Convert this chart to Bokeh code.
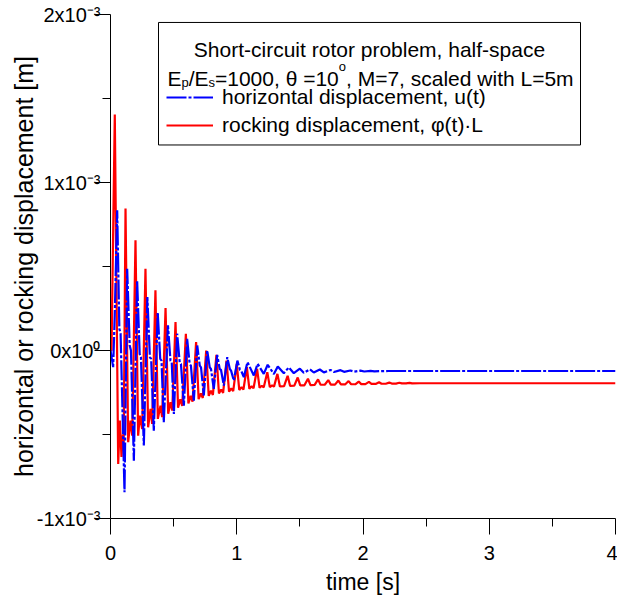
import numpy as np
from bokeh.plotting import figure
from bokeh.models import (Range1d, FixedTicker, CustomJSTickFormatter, Label,
                          BoxAnnotation, Legend, LegendItem)
from bokeh.embed import file_html
from bokeh.resources import INLINE

# ---------------- data (displacements in 1e-3 m) ----------------
t_red = [0.000, 0.008, 0.034, 0.061, 0.074,
         0.087, 0.098, 0.104, 0.119,
         0.140, 0.158, 0.172, 0.198,
         0.219, 0.232, 0.251, 0.277,
         0.298, 0.317, 0.330, 0.356,
         0.375, 0.396, 0.409, 0.436,
         0.457, 0.475, 0.489, 0.515,
         0.535, 0.553, 0.568, 0.597,
         0.617, 0.635, 0.650, 0.678,
         0.698, 0.716, 0.731, 0.758,
         0.778, 0.796, 0.811, 0.839,
         0.859, 0.877, 0.892, 0.919,
         0.939, 0.957, 0.972, 1.000,
         1.020, 1.038, 1.053, 1.080,
         1.100, 1.118, 1.133, 1.161,
         1.181, 1.199, 1.214, 1.242,
         1.262, 1.280, 1.295, 1.322,
         1.342, 1.375, 1.403,
         1.423, 1.456, 1.483,
         1.503, 1.536, 1.564,
         1.584, 1.617, 1.644,
         1.664, 1.697, 1.725,
         1.745, 1.778, 1.805,
         1.825, 1.858, 1.886,
         1.906, 1.939, 1.966,
         1.986, 2.019, 2.047,
         2.067, 2.100, 2.127,
         2.147, 2.180, 2.208,
         2.228, 2.261, 2.288,
         2.308, 2.341, 2.369,
         2.389, 2.450, 4.000]
rocking_mm = [0.000, 0.000, 1.405, -0.676, -0.417,
              -0.634, -0.500, -0.580, 0.845,
              -0.546, -0.417, -0.507, 0.656,
              -0.507, -0.388, -0.467, 0.487,
              -0.457, -0.348, -0.437, 0.358,
              -0.407, -0.328, -0.397, 0.253,
              -0.377, -0.308, -0.358, 0.169,
              -0.340, -0.290, -0.330, 0.100,
              -0.315, -0.270, -0.305, 0.050,
              -0.290, -0.255, -0.283, 0.000,
              -0.270, -0.240, -0.265, -0.026,
              -0.256, -0.232, -0.252, -0.060,
              -0.245, -0.225, -0.242, -0.079,
              -0.235, -0.218, -0.232, -0.099,
              -0.228, -0.213, -0.225, -0.109,
              -0.222, -0.210, -0.219, -0.129,
              -0.218, -0.207, -0.215, -0.139,
              -0.214, -0.212, -0.151,
              -0.211, -0.209, -0.161,
              -0.208, -0.207, -0.168,
              -0.206, -0.205, -0.172,
              -0.204, -0.204, -0.176,
              -0.203, -0.203, -0.179,
              -0.202, -0.202, -0.182,
              -0.201, -0.201, -0.185,
              -0.200, -0.200, -0.187,
              -0.199, -0.199, -0.189,
              -0.198, -0.198, -0.191,
              -0.197, -0.197, -0.192,
              -0.196, -0.196, -0.193,
              -0.196, -0.195, -0.195]

t_blue = [0.000, 0.021, 0.035, 0.053, 0.070, 0.080,
          0.111, 0.132, 0.152, 0.162,
          0.185, 0.211, 0.231, 0.241,
          0.264, 0.292, 0.312, 0.322,
          0.343, 0.374, 0.394, 0.404,
          0.422, 0.455, 0.475, 0.485,
          0.502, 0.528, 0.548, 0.558,
          0.581, 0.607, 0.627, 0.637,
          0.660, 0.687, 0.707, 0.717,
          0.739, 0.766, 0.786, 0.796,
          0.818, 0.845, 0.865, 0.875,
          0.898, 0.925, 0.945, 0.955,
          0.977, 1.005, 1.025, 1.035,
          1.056, 1.085, 1.135, 1.165,
          1.214, 1.245, 1.294, 1.325,
          1.373, 1.412, 1.452, 1.500,
          1.531, 1.579, 1.610, 1.658,
          1.690, 1.743, 1.770, 1.822,
          1.850, 1.900, 1.930, 1.980,
          2.010, 2.060, 2.090, 2.200,
          4.000]
horizontal_mm = [0.000, -0.099, 0.250, 0.835, 0.130, 0.100,
                 -0.844, 0.487, 0.030, 0.000,
                 -0.656, 0.417, -0.020, -0.040,
                 -0.566, 0.318, -0.040, -0.050,
                 -0.477, 0.224, -0.050, -0.060,
                 -0.427, 0.150, -0.060, -0.070,
                 -0.377, 0.100, -0.070, -0.080,
                 -0.328, 0.070, -0.080, -0.090,
                 -0.298, 0.030, -0.090, -0.100,
                 -0.268, 0.000, -0.100, -0.110,
                 -0.228, -0.026, -0.110, -0.115,
                 -0.209, -0.040, -0.110, -0.120,
                 -0.179, -0.060, -0.115, -0.120,
                 -0.159, -0.069, -0.149, -0.079,
                 -0.139, -0.085, -0.140, -0.095,
                 -0.135, -0.101, -0.135, -0.108,
                 -0.133, -0.112, -0.131, -0.113,
                 -0.130, -0.116, -0.128, -0.117,
                 -0.127, -0.119, -0.126, -0.120,
                 -0.125, -0.121, -0.124, -0.122,
                 -0.122]

x_ticks = [0, 1, 2, 3, 4]
x_minor = [0.5, 1.5, 2.5, 3.5]
y_ticks = [-1e-3, 0.0, 1e-3, 2e-3]
y_minor = [-0.5e-3, 0.5e-3, 1.5e-3]
y_tick_labels = ["-1x10\u207b\u00b3", "0x10\u2070", "1x10\u207b\u00b3", "2x10\u207b\u00b3"]

header1 = "Short-circuit rotor problem, half-space"
label_u = "horizontal displacement, u(t)"
label_phi = "rocking displacement, \u03c6(t)\u00b7L"
x_title = "time [s]"
y_title = "horizontal or rocking displacement [m]"

# ---------------- layout ----------------
FONT = "Liberation Sans"
W, H = 617, 597
FL, FR, FT, FB = 110, 2, 14, 77
FW = W - FL - FR
FH = H - FT - FB
X0, X1 = 0.0, 4.0
Y0, Y1 = -1e-3, 2e-3
XPP = (X1 - X0) / FW
YPP = (Y1 - Y0) / FH


def X(px):
    return X0 + (px - FL) * XPP


def Y(py):
    return Y1 - (py - FT) * YPP


p = figure(width=W, height=H, x_range=Range1d(X0, X1), y_range=Range1d(Y0, Y1),
           output_backend="svg", toolbar_location=None,
           min_border_left=FL, min_border_right=FR,
           min_border_top=FT, min_border_bottom=FB)
p.grid.visible = False
p.outline_line_color = None
p.background_fill_color = "white"
p.border_fill_color = "white"

red = p.line(np.array(t_red), np.array(rocking_mm) * 1e-3,
             line_color="#ff0000", line_width=2.2)
blue = p.line(np.array(t_blue), np.array(horizontal_mm) * 1e-3,
              line_color="#0000ff", line_width=2.2, line_dash="20 2 3 2")

for ax in (p.xaxis[0], p.yaxis[0]):
    ax.axis_line_color = "black"
    ax.axis_line_width = 1
    ax.major_tick_line_color = "black"
    ax.minor_tick_line_color = "black"
    ax.major_tick_in = 0
    ax.minor_tick_in = 0
    ax.major_tick_out = 16
    ax.minor_tick_out = 8
    ax.major_label_text_font = FONT
    ax.major_label_text_font_size = "20px"
    ax.major_label_text_color = "black"
    ax.axis_label_text_font = FONT
    ax.axis_label_text_font_style = "normal"
    ax.axis_label_text_color = "black"

p.xaxis.ticker = FixedTicker(ticks=x_ticks, minor_ticks=x_minor)
p.xaxis.major_label_standoff = 11
p.xaxis.axis_label = x_title
p.xaxis.axis_label_text_font_size = "23px"
p.xaxis.axis_label_standoff = 6

p.yaxis.ticker = FixedTicker(ticks=y_ticks, minor_ticks=y_minor)
p.yaxis.formatter = CustomJSTickFormatter(args=dict(labels=y_tick_labels),
                                          code="return labels[index]")
p.yaxis.major_label_standoff = -6
p.yaxis.axis_label = y_title
p.yaxis.axis_label_text_font_size = "25px"
p.yaxis.axis_label_standoff = -4

# legend frame and header
p.add_layout(BoxAnnotation(left=X(158), right=X(580), top=Y(22), bottom=Y(145),
                           fill_color="white", fill_alpha=1.0,
                           line_color="black", line_width=1, line_alpha=1.0))
p.add_layout(Label(x=X(369), y=Y(49.5), text=header1, text_font=FONT,
                   text_font_size="21px", text_color="black",
                   text_align="center", text_baseline="alphabetic"))

pieces = [("E", 167.0, 78.3, "21px"), ("p", 181.0, 82.7, "13px"),
          ("/E", 188.2, 78.3, "21px"), ("s", 208.0, 82.7, "13px"),
          ("=1000, \u03b8 =10", 214.5, 78.3, "21px"), ("o", 338.3, 66.7, "13px"),
          (", M=7, scaled with L=5m", 345.5, 78.3, "21px")]
for txt, px, py, fs in pieces:
    p.add_layout(Label(x=X(px), y=Y(py), text=txt, text_font=FONT,
                       text_font_size=fs, text_color="black",
                       text_align="left", text_baseline="alphabetic"))

legend = Legend(items=[LegendItem(label=label_u, renderers=[blue]),
                       LegendItem(label=label_phi, renderers=[red])],
                location=(166 - FL, (FT + FH) - 141),
                padding=0, margin=0, spacing=0,
                glyph_width=47, glyph_height=28, label_height=28,
                label_standoff=9, label_text_font=FONT,
                label_text_font_size="21px", label_text_color="black",
                border_line_alpha=0, background_fill_alpha=0)
p.add_layout(legend)

open("out.html", "w").write(file_html(p, INLINE))
